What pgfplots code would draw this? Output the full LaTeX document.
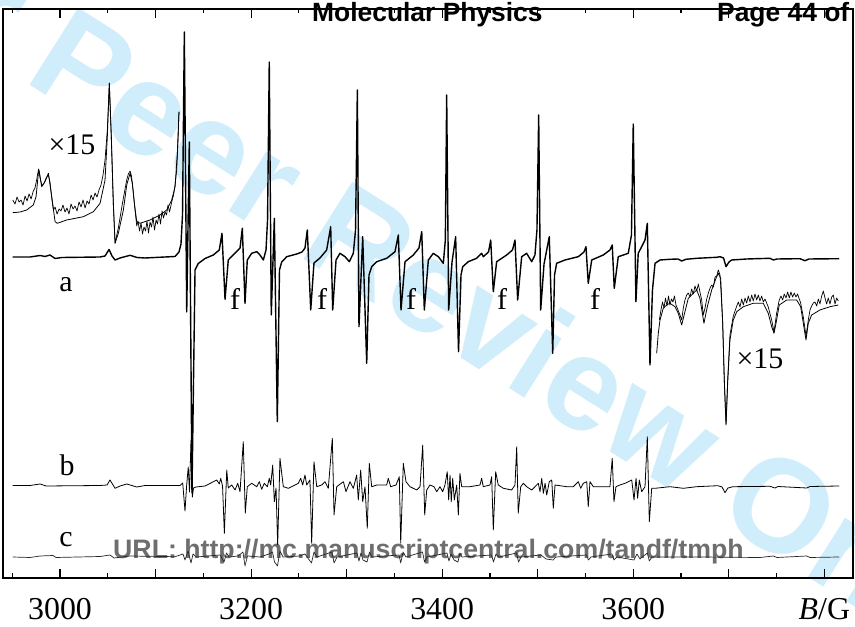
\documentclass[border=0pt]{standalone}
\usepackage{pgfplots}
\pgfplotsset{compat=1.18}
\usepackage{fontspec}
\setmainfont{Liberation Serif}
\newfontfamily\hv{Liberation Sans}
\definecolor{wm}{RGB}{208,237,251}
\definecolor{urlgray}{RGB}{110,110,110}
\begin{document}
\begin{tikzpicture}
\path[use as bounding box] (0,0) rectangle (855bp,627bp);
\fill[white] (0,0) rectangle (855bp,627bp);
% watermark
\node[anchor=base, rotate=-32.3, text=wm, inner sep=0pt, font=\hv\bfseries\fontsize{133}{133}\selectfont] at (386.6bp,315.8bp) {For Peer Review Only};
% url
\node[anchor=base west, inner sep=0pt, text=urlgray, font=\hv\bfseries\fontsize{26.8}{26.8}\selectfont] at (113bp,68.7bp) {URL: http://mc.manuscriptcentral.com/tandf/tmph};
\begin{axis}[
  at={(3bp,49bp)}, anchor=south west,
  scale only axis, width=850bp, height=569bp,
  xmin=2940.3, xmax=3830, ymin=0, ymax=569,
  axis line style={line width=1.6bp},
  xtick={3000,3100,...,3800},
  minor xtick={2950,3050,...,3750},
  xticklabels={3000,,3200,,3400,,3600,,{\textit{B}/G}},
  xticklabel style={font=\fontsize{32}{32}\selectfont, yshift=-17bp},
  ytick=\empty,
  major tick length=9bp, minor tick length=4.5bp,
  every tick/.style={line width=1.2bp, black},
  tick align=inside,
  clip=true,
  every axis plot/.append style={line join=round},
]
% left inset smooth
\addplot[black, line width=0.8bp] coordinates {
(2950.5,365.3)(2958.1,366)(2965.1,368)(2972.0,373)(2974.9,381.3)(2977.3,404.7)(2978.0,408)(2980.8,391.3)(2984.3,396.3)(2987.8,404.7)(2991.3,381.3)(2994.8,356.3)(2997.2,354.7)(3007.0,358)(3024.4,361.3)(3034.9,366.3)(3041.9,374.7)(3047.1,398)(3049.5,441.3)(3051.6,494.7)(3053.7,441.3)(3055.8,374.7)(3057.6,334.7)(3061.0,344.7)(3066.3,368)(3069.8,393)(3073.3,404.7)(3075.7,394.7)(3077.8,374.7)(3080.3,356.3)(3083.7,354.7)(3094.2,358)(3104.7,363)(3111.7,368)(3116.9,378)(3120.4,391.3)(3122.8,424.7)(3124.5,466.3)
};
% left inset noisy
\addplot[black, line width=0.7bp] coordinates {
(2950.5,378)(2952.9,374)(2955.0,381)(2957.1,376)(2959.2,378)(2961.3,373)(2963.4,382)(2965.5,377)(2967.6,384)(2969.7,379)(2972.0,387)(2973.8,390)(2975.9,400)(2977.5,409)(2979.1,400)(2981.2,392)(2983.3,395)(2985.4,400)(2987.8,403)(2989.5,396)(2991.6,378)(2993.1,368)(2994.8,371)(2996.9,364)(2999.0,369)(3001.0,367)(3003.1,373)(3005.2,366)(3007.3,370)(3009.4,364)(3011.5,374)(3013.6,369)(3015.7,372)(3017.8,367)(3019.9,376)(3022.0,371)(3024.1,378)(3026.2,370)(3028.3,377)(3030.4,374)(3032.5,383)(3034.6,378)(3036.6,385)(3038.7,381)(3040.8,388)(3042.9,393)(3045.0,403)(3047.1,418)(3049.5,448)(3051.6,495)(3053.7,438)(3055.8,373)(3057.6,335)(3061.0,350)(3063.8,366)(3066.3,380)(3069.8,398)(3071.5,404)(3073.3,407)(3074.8,402)(3076.4,388)(3078.5,368)(3080.3,352)(3081.6,357)(3083.2,347)(3084.8,355)(3086.3,344)(3087.9,351)(3089.5,347)(3091.0,357)(3092.6,345)(3094.2,356)(3095.8,351)(3097.3,361)(3098.9,348)(3100.5,358)(3102.0,354)(3103.6,364)(3105.2,354)(3106.8,367)(3108.3,360)(3109.9,366)(3111.5,363)(3113.0,373)(3114.6,366)(3116.9,376)(3118.8,383)(3120.4,393)(3122.1,408)(3123.5,438)(3124.5,466)
};
% right inset smooth
\addplot[black, line width=0.8bp] coordinates {
(3624.5,224.7)(3626.2,244.7)(3628.0,258)(3631.4,269.7)(3634.9,273)(3638.4,274.7)(3643.7,271.3)(3647.1,264.7)(3650.7,253)(3654.1,266.3)(3657.6,279.7)(3662.8,284.7)(3666.4,288)(3669.8,279.7)(3674.0,254.7)(3677.5,271.3)(3682.1,288)(3686.6,299.7)(3689.0,304.7)(3691.5,299.7)(3693.6,254.7)(3695.3,198)(3697.1,153)(3698.8,194.7)(3701.2,238)(3704.7,258)(3708.3,266.3)(3715.2,271.3)(3725.6,274.7)(3736.1,274.7)(3741.3,264.7)(3744.9,251.3)(3747.3,244.7)(3749.4,254.7)(3752.8,273)(3760.6,278)(3771.0,278)(3775.2,271.3)(3778.0,254.7)(3780.8,238)(3783.2,254.7)(3786.7,263)(3795.4,268)(3805.9,271.3)(3814.6,273)
};
% right inset noisy
\addplot[black, line width=0.7bp] coordinates {
(3627.3,258)(3629.0,268)(3630.6,276)(3632.2,270)(3633.7,280)(3635.3,272)(3636.9,282)(3638.4,273)(3640.0,279)(3641.6,276)(3643.1,282)(3644.7,273)(3646.8,268)(3648.9,263)(3650.7,258)(3652.4,270)(3654.1,278)(3655.9,283)(3657.6,285)(3659.4,281)(3661.1,289)(3662.8,284)(3664.6,292)(3666.4,287)(3668.1,294)(3669.8,286)(3671.6,278)(3673.3,263)(3675.1,270)(3676.9,279)(3678.6,285)(3680.4,290)(3682.1,293)(3683.9,291)(3685.6,301)(3687.4,302)(3689.0,308)(3690.8,303)(3691.8,288)(3693.6,255)(3695.3,196)(3697.1,154)(3698.8,198)(3701.2,243)(3704.7,262)(3708.3,272)(3710.0,276)(3711.7,271)(3713.5,279)(3715.2,273)(3717.0,280)(3718.7,275)(3720.4,282)(3722.2,276)(3724.0,283)(3725.6,277)(3727.4,284)(3729.2,278)(3730.9,283)(3732.6,277)(3734.4,282)(3736.1,276)(3737.9,279)(3741.3,271)(3744.9,258)(3747.3,246)(3750.1,265)(3752.8,278)(3754.6,282)(3756.4,278)(3758.0,284)(3759.9,280)(3761.6,286)(3763.3,280)(3765.0,286)(3766.8,281)(3768.5,285)(3770.3,281)(3772.0,284)(3775.2,275)(3778.0,261)(3780.8,242)(3783.2,258)(3785.0,268)(3786.7,272)(3788.5,275)(3790.2,276)(3792.0,272)(3793.7,279)(3795.4,274)(3797.2,282)(3798.9,287)(3800.7,280)(3802.4,274)(3804.1,280)(3805.9,274)(3807.7,281)(3809.4,283)(3811.2,274)(3812.9,280)(3814.6,277)
};
% trace b
\addplot[black, line width=0.8bp] coordinates {
(2950.5,92.5)(2968.6,92.5)(2979.1,94)(2985.3,92)(3041.9,92.5)(3049.2,93)(3052.3,98)(3057.6,89.7)(3062.8,92)(3069.8,94)(3080.3,91)(3089.0,92.5)(3125.6,92.5)(3128.4,95)(3130.8,67)(3132.4,91)(3134.2,111)(3135.5,86)(3137.1,138)(3138.5,81)(3139.7,90)(3142.3,91)(3151.8,92)(3164.0,98)(3166.7,94)(3168.2,99.7)(3170.1,92)(3172.0,44.7)(3174.5,108)(3176.1,90)(3179.7,93)(3183.2,88)(3186.0,94.7)(3188.4,86.3)(3191.8,136.3)(3193.9,64.7)(3196.0,91.3)(3200.6,94.7)(3205.9,91.3)(3208.6,96.3)(3211.1,88.7)(3213.8,94.7)(3217.0,91.3)(3219.0,99.7)(3220.5,93)(3222.6,113)(3224.3,76.3)(3226.1,90)(3227.8,33)(3230.2,119.7)(3233.7,91.3)(3239.0,89.7)(3249.4,94.7)(3251.9,99.7)(3254.0,93)(3256.4,103)(3258.2,93)(3261.6,98)(3263.4,34.7)(3265.8,116.3)(3268.7,91.3)(3273.9,93)(3277.3,96.3)(3280.8,89.7)(3285.0,139.7)(3286.8,63)(3289.6,91.3)(3296.6,96.3)(3299.3,86.3)(3303.5,96.3)(3307.0,89.7)(3310.5,103)(3312.2,78)(3314.7,108)(3316.8,76.3)(3319.2,91.3)(3321.6,49.7)(3323.7,114.7)(3326.2,91.3)(3331.5,93)(3341.9,93)(3343.6,99.7)(3346.1,91.3)(3351.7,93)(3355.1,101.3)(3356.6,34.7)(3359.3,114.7)(3362.1,96.3)(3366.3,91.3)(3373.3,88)(3376.8,91.3)(3379.6,133)(3381.7,63)(3383.8,88)(3387.2,93)(3391.4,91.3)(3394.3,86.3)(3397.7,91.3)(3400.5,86.3)(3402.9,93)(3405.3,106.3)(3406.8,78)(3408.2,103)(3409.5,76.3)(3411.0,99.7)(3412.7,78)(3415.2,93)(3416.9,63)(3418.6,104.7)(3420.4,91.3)(3429.1,91.3)(3439.6,93)(3441.3,99.7)(3443.0,91.3)(3450.0,93)(3451.8,101.3)(3453.5,48)(3456.0,106.3)(3458.7,93)(3464.0,89.7)(3472.7,88)(3476.2,93)(3478.0,131.3)(3479.6,64.7)(3482.2,91.3)(3484.9,94.7)(3488.4,91.3)(3493.7,88)(3498.9,93)(3500.6,94.7)(3502.4,86.3)(3504.2,99.7)(3505.9,84.7)(3507.7,94.7)(3509.4,83)(3512.1,96.3)(3514.7,98)(3516.3,69.7)(3518.1,93)(3530.3,91.3)(3537.3,91.3)(3540.8,94.7)(3542.5,96.3)(3545.0,89.7)(3547.7,94.7)(3551.3,96.3)(3552.9,71.3)(3554.7,96.3)(3558.2,91.3)(3575.6,91.3)(3578.0,119.7)(3579.8,76.3)(3581.9,91.3)(3586.1,93)(3591.4,94.7)(3598.4,98)(3600.8,78)(3602.9,99.7)(3604.6,79.7)(3606.3,98)(3608.8,86.3)(3612.3,91.3)(3614.7,141.3)(3616.8,56.3)(3619.3,89.7)(3622.8,89.7)(3638.4,91.3)(3652.4,89.7)(3666.4,91.3)(3688.7,92.3)(3692.9,91)(3696.0,85.3)(3699.1,90)(3704.4,91.3)(3743.1,91.7)(3748.3,90)(3751.5,91.5)(3781.5,90)(3785.0,91.5)(3815.6,92)
};
% trace c
\addplot[black!85, line width=0.7bp] coordinates {
(2950.5,21)(2968.6,20.5)(2979.1,22)(2992.7,22.5)(2995.8,20.5)(3041.9,21.5)(3052.3,23)(3056.5,20)(3073.3,22)(3120.4,21.3)(3128.7,24)(3130.8,18)(3134.0,27)(3137.1,15)(3139.2,24)(3142.3,21)(3167.5,23)(3171.6,16)(3174.3,25)(3176.9,21)(3186.3,22)(3191.5,26)(3193.6,12)(3196.2,22)(3209.3,21)(3218.7,24)(3222.4,26)(3224.5,16)(3227.6,12)(3230.2,27)(3233.4,21)(3251.2,22)(3256.4,24)(3263.2,15)(3265.8,26)(3269.0,21)(3284.7,26)(3286.8,15)(3289.9,21)(3310.8,25)(3312.9,17)(3315.0,25)(3317.1,18)(3321.3,16)(3323.9,26)(3326.5,21)(3354.8,23)(3356.6,15)(3359.0,26)(3362.1,21)(3379.4,26)(3381.5,16)(3384.1,21)(3405.0,25)(3407.1,17)(3409.2,24)(3412.4,18)(3416.5,16)(3418.6,25)(3420.7,21)(3451.6,23)(3453.7,16)(3456.3,24)(3459.5,21)(3477.8,25)(3479.9,16)(3482.5,21)(3503.4,23)(3508.7,19)(3516.0,18)(3519.1,21)(3551.0,23)(3553.1,18)(3555.7,21)(3577.7,24)(3579.8,18)(3582.9,21)(3600.7,18)(3603.9,24)(3607.0,19)(3614.7,25)(3616.8,17)(3619.6,21)(3669.8,21)(3732.6,20.5)(3746.6,22)(3750.4,20.5)(3781.5,22)(3785.0,20.5)(3815.6,21)
};
% trace a
\addplot[black, line width=1.4bp] coordinates {
(2950.5,321)(2968.6,321)(2979.1,322.5)(2984.3,321.5)(2989.5,323)(2994.8,319.5)(3002.1,320.5)(3041.9,321)(3047.1,322)(3051.3,328.5)(3054.4,322)(3057.6,318)(3062.8,320)(3073.3,322.7)(3080.6,320.5)(3089.0,320)(3120.4,321.5)(3124.5,326)(3126.6,334)(3128.2,363)(3130.1,546)(3132.6,266)(3135.3,436)(3138.1,85)(3141.3,308)(3144.7,314.5)(3151.8,319.5)(3160.4,323)(3166.7,328)(3169.5,344.7)(3172.7,278.7)(3176.1,318)(3183.2,325)(3188.4,330)(3190.8,349.7)(3193.6,274.7)(3196.0,318)(3200.6,324.7)(3205.9,326.3)(3209.3,323)(3212.8,318)(3215.6,328)(3217.2,358)(3219.0,516)(3221.1,263)(3224.3,359.7)(3227.4,156.3)(3229.7,308)(3232.0,316)(3237.3,321.3)(3247.7,324)(3253.3,326)(3256.4,330)(3258.8,348)(3262.4,268)(3265.8,315)(3272.1,320)(3279.1,328)(3283.3,351.3)(3285.4,268)(3288.9,318)(3293.0,324.7)(3298.3,321.3)(3302.8,316.3)(3307.0,324.7)(3309.3,348)(3311.2,488)(3312.9,251.3)(3316.8,341.3)(3321.0,214.7)(3323.4,303)(3326.2,311.3)(3331.5,316.3)(3341.9,319.7)(3350.6,326.3)(3354.1,343)(3356.9,268)(3361.1,316.3)(3369.8,323)(3375.7,330)(3378.6,346.3)(3381.3,268)(3385.5,318)(3390.7,324.7)(3396.0,321.3)(3401.2,314.7)(3403.3,338)(3404.7,483)(3406.8,268)(3410.3,316)(3414.1,341.3)(3417.1,226.3)(3419.7,303)(3421.5,311.3)(3427.3,316.3)(3436.1,319.7)(3441.3,324.7)(3443.0,321.3)(3448.5,326)(3450.8,338)(3453.5,286.3)(3457.0,316.3)(3467.5,323)(3473.6,328)(3476.2,338)(3479.0,278)(3483.2,321.3)(3488.4,324.7)(3493.7,316.3)(3497.1,323)(3499.2,348)(3501.0,463)(3503.1,268)(3506.6,314)(3512.1,341.3)(3515.7,224.7)(3517.6,303)(3519.8,314.7)(3528.5,318)(3542.5,321.3)(3548.4,326)(3550.5,331.3)(3552.9,294.7)(3556.5,318)(3568.6,323)(3575.6,328)(3578.0,333)(3580.1,289.7)(3584.3,321.3)(3589.6,323)(3594.8,324.7)(3598.1,343)(3600.0,454)(3602.8,276.3)(3605.2,324.7)(3608.8,331.3)(3612.3,338)(3614.7,354.7)(3617.5,213)(3620.1,288)(3622.8,314.7)(3628.0,318)(3638.4,318.7)(3646.8,319)(3650.7,317)(3655.2,318.7)(3666.4,319.7)(3687.4,320.7)(3690.8,321.3)(3694.5,320)(3697.1,311.3)(3700.2,316)(3703.0,318)(3718.7,319)(3743.1,319.7)(3746.6,318)(3750.4,319)(3774.5,319.3)(3779.7,317.3)(3783.9,319)(3815.6,319.3)
};
\end{axis}
% labels in pixel coordinates: (px, 627-py)
\begin{scope}[every node/.style={inner sep=0pt, anchor=base, font=\fontsize{30}{30}\selectfont}]
\node at (66bp,335.3bp) {a};
\node at (67bp,151.3bp) {b};
\node at (66bp,80.3bp) {c};
\node at (235bp,317bp) {f};
\node at (322bp,317bp) {f};
\node at (411bp,317bp) {f};
\node at (502bp,317bp) {f};
\node at (595bp,317bp) {f};
\node at (72bp,472bp) {×15};
\node at (760bp,258.7bp) {×15};
\end{scope}
% header
\node[anchor=base west, inner sep=0pt, font=\hv\bfseries\fontsize{26.5}{26.5}\selectfont] at (312bp,605.3bp) {Molecular Physics};
\node[anchor=base west, inner sep=0pt, font=\hv\bfseries\fontsize{26.5}{26.5}\selectfont] at (717bp,605.3bp) {Page 44 of};
\end{tikzpicture}
\end{document}
